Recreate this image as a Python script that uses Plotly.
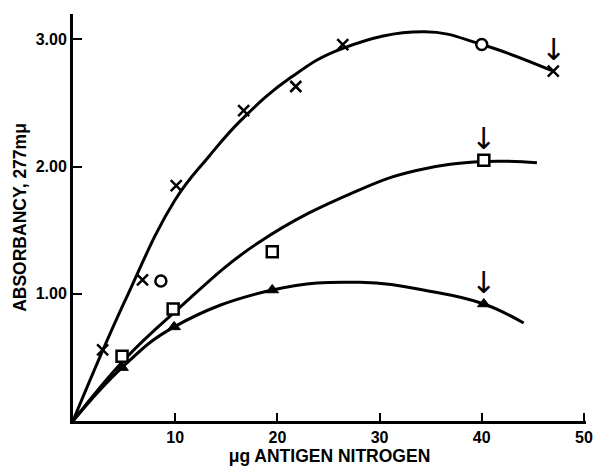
import plotly.graph_objects as go

# ---- data ----
# fitted curves (points along each hand-drawn curve)
top_curve_x = [0, 5.0, 10.0, 13.3, 16.5, 21.3, 26.4, 34.4, 40.0, 47.0]
top_curve_y = [0, 0.93, 1.74, 2.08, 2.37, 2.70, 2.93, 3.06, 2.96, 2.75]
mid_curve_x = [0, 5.0, 10.0, 18.1, 27.8, 33.6, 40.2, 45.4]
mid_curve_y = [0, 0.48, 0.86, 1.40, 1.81, 1.97, 2.04, 2.03]
low_curve_x = [0, 4.8, 9.9, 19.5, 28.1, 34.9, 40.2, 44.1]
low_curve_y = [0, 0.42, 0.74, 1.03, 1.09, 1.02, 0.92, 0.77]

# observed points
cross_x = [2.9, 6.8, 10.1, 16.7, 21.8, 26.4, 47.0]
cross_y = [0.56, 1.11, 1.85, 2.44, 2.63, 2.96, 2.75]
circle_x = [8.6, 40.0]
circle_y = [1.10, 2.96]
square_x = [4.8, 9.8, 19.5, 40.2]
square_y = [0.51, 0.88, 1.33, 2.05]
tri_x = [4.8, 9.9, 19.5, 40.2]
tri_y = [0.42, 0.74, 1.03, 0.92]

# arrows mark these points
arrow_x = [47.0, 40.2, 40.2]
arrow_y = [2.75, 2.05, 0.92]

x_ticks = [10, 20, 30, 40, 50]
y_ticks = [1, 2, 3]
y_tick_labels = ["1.00", "2.00", "3.00"]

FONT = "Liberation Sans"
INK = "#000000"

fig = go.Figure()

for cx, cy in [(top_curve_x, top_curve_y), (mid_curve_x, mid_curve_y), (low_curve_x, low_curve_y)]:
    fig.add_trace(go.Scatter(x=cx, y=cy, mode="lines",
                             line=dict(color=INK, width=3, shape="spline", smoothing=1.2),
                             hoverinfo="skip", showlegend=False))

fig.add_trace(go.Scatter(x=cross_x, y=cross_y, mode="markers",
                         marker=dict(symbol="x-thin", size=11, color=INK,
                                     line=dict(color=INK, width=2.5)),
                         showlegend=False))
fig.add_trace(go.Scatter(x=circle_x, y=circle_y, mode="markers",
                         marker=dict(symbol="circle", size=11, color="white",
                                     line=dict(color=INK, width=2.5)),
                         showlegend=False))
fig.add_trace(go.Scatter(x=square_x, y=square_y, mode="markers",
                         marker=dict(symbol="square", size=11, color="white",
                                     line=dict(color=INK, width=2.5)),
                         showlegend=False))
fig.add_trace(go.Scatter(x=tri_x, y=tri_y, mode="markers",
                         marker=dict(symbol="triangle-up", size=11, color=INK,
                                     line=dict(color=INK, width=1)),
                         showlegend=False))

for ax_, ay_ in zip(arrow_x, arrow_y):
    fig.add_annotation(x=ax_, y=ay_, text="↓", showarrow=False,
                       yanchor="bottom", yshift=2,
                       font=dict(family="DejaVu Sans", size=30, color=INK))

fig.update_layout(
    width=605, height=470,
    margin=dict(l=73, r=16, t=14, b=46),
    paper_bgcolor="white", plot_bgcolor="white",
    font=dict(family=FONT, size=17, color=INK),
)
fig.update_xaxes(range=[0, 50.2], showgrid=False, zeroline=False,
                 showline=True, linecolor=INK, linewidth=3,
                 ticks="inside", ticklen=8, tickwidth=2, tickcolor=INK,
                 tickvals=x_ticks, ticktext=[f"<b>{v}</b>" for v in x_ticks],
                 tickfont=dict(family=FONT, size=16, color=INK),
                 title=dict(text="<b>μg ANTIGEN NITROGEN</b>", standoff=0,
                            font=dict(family=FONT, size=17.5, color=INK)))
fig.update_yaxes(range=[0, 3.2], showgrid=False, zeroline=False,
                 showline=True, linecolor=INK, linewidth=3,
                 ticks="inside", ticklen=9, tickwidth=2, tickcolor=INK,
                 tickvals=y_ticks, ticktext=[f"<b>{t}</b>" for t in y_tick_labels],
                 tickfont=dict(family=FONT, size=16, color=INK),
                 title=dict(text="<b>ABSORBANCY, 277mμ</b>", standoff=5,
                            font=dict(family=FONT, size=17.5, color=INK)))

fig.write_html("out.html")
